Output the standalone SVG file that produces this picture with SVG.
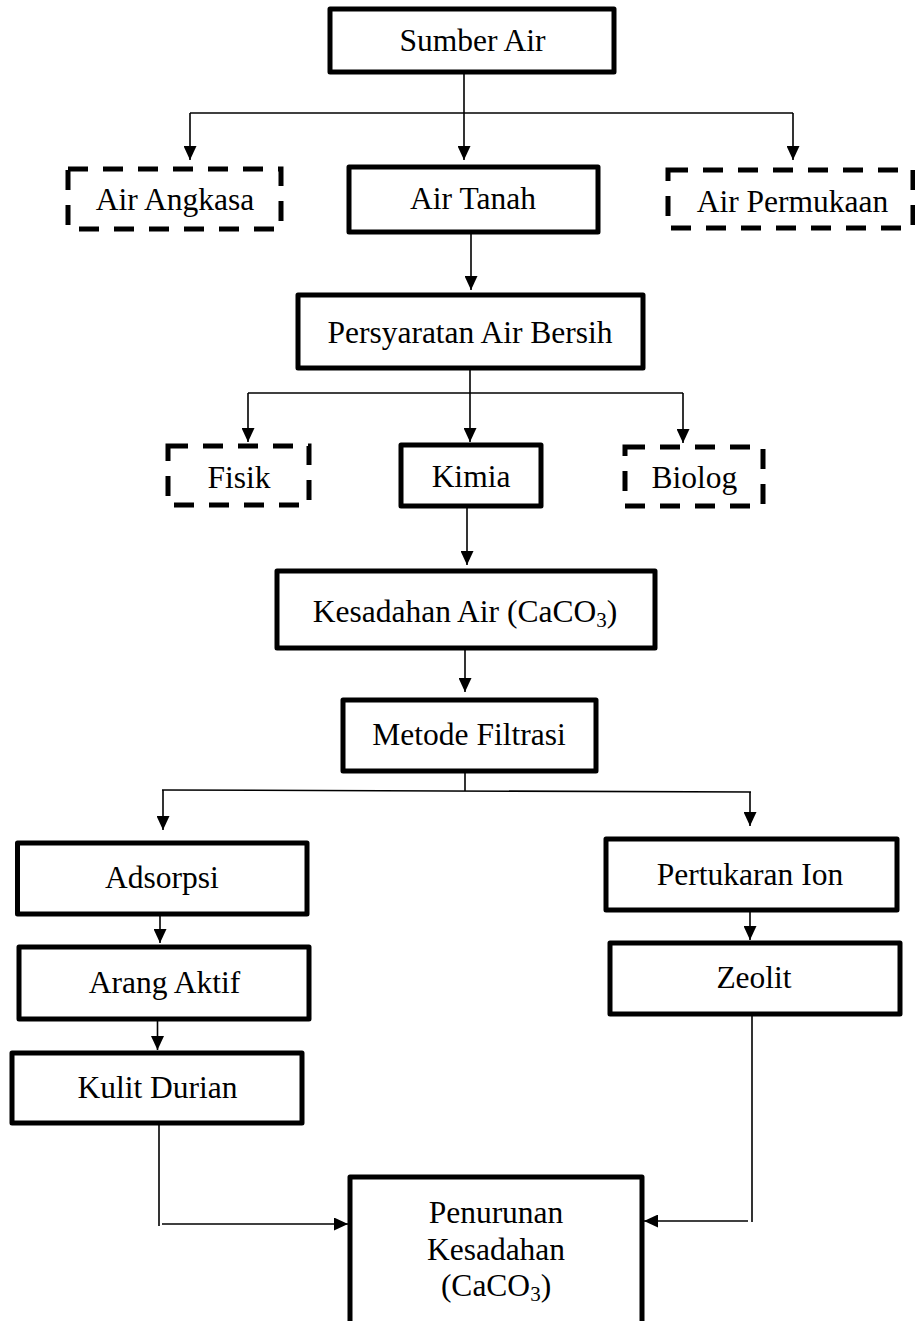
<svg xmlns="http://www.w3.org/2000/svg" width="915" height="1321" viewBox="0 0 915 1321">
<style>
.box{fill:#fff;stroke:#000;stroke-width:5;stroke-linejoin:round}
.dash{fill:#fff;stroke:#000;stroke-width:5;stroke-dasharray:20 15}
.lbl{font-family:"Liberation Serif","Times New Roman",serif;font-size:31.5px;fill:#000;text-anchor:middle}
.con{fill:none;stroke:#000;stroke-width:1.6}
.arr{marker-end:url(#ah)}
</style>
<defs>
<marker id="ah" viewBox="0 0 14 13" refX="14" refY="6.5" markerWidth="14" markerHeight="13" markerUnits="userSpaceOnUse" orient="auto">
<path d="M0 0 L14 6.5 L0 13 Z" fill="#000"/>
</marker>
</defs>
<g id="connectors">
<path class="con arr" d="M464 72 V160"/>
<path class="con" d="M190 113 H793"/>
<path class="con arr" d="M190 113 V160"/>
<path class="con arr" d="M793 113 V160"/>
<path class="con arr" d="M471 232 V290"/>
<path class="con arr" d="M470 368 V442"/>
<path class="con" d="M248 393 H683"/>
<path class="con arr" d="M248 393 V442"/>
<path class="con arr" d="M683 393 V443"/>
<path class="con arr" d="M467 506 V565"/>
<path class="con arr" d="M465 648 V692"/>
<path class="con" d="M465 771 V791"/>
<path class="con" d="M162 790 L751 792"/>
<path class="con arr" d="M163 790 V830"/>
<path class="con arr" d="M750 792 V826"/>
<path class="con arr" d="M160 914 V943"/>
<path class="con arr" d="M157.5 1019 V1050"/>
<path class="con arr" d="M750 910 V940"/>
<path class="con" d="M159 1123 V1226"/>
<path class="con arr" d="M162 1224 H348"/>
<path class="con" d="M752 1014 V1222"/>
<path class="con arr" d="M748 1221 H644"/>
</g>
<g id="sumber-air"><rect class="box" x="330" y="9" width="284" height="63"/><text class="lbl" x="472.5" y="51">Sumber Air</text></g>
<g id="air-angkasa"><rect class="dash" x="68" y="169" width="213" height="60"/><text class="lbl" x="175" y="210">Air Angkasa</text></g>
<g id="air-tanah"><rect class="box" x="349" y="167" width="249" height="65"/><text class="lbl" x="473" y="209">Air Tanah</text></g>
<g id="air-permukaan"><rect class="dash" x="668" y="170" width="245" height="58"/><text class="lbl" x="792.5" y="212">Air Permukaan</text></g>
<g id="persyaratan"><rect class="box" x="298" y="295" width="345" height="73"/><text class="lbl" x="470" y="343">Persyaratan Air Bersih</text></g>
<g id="fisik"><rect class="dash" x="168" y="446" width="141" height="59"/><text class="lbl" x="239" y="488">Fisik</text></g>
<g id="kimia"><rect class="box" x="401" y="445" width="140" height="61"/><text class="lbl" x="471" y="487">Kimia</text></g>
<g id="biolog"><rect class="dash" x="625" y="447" width="138" height="59"/><text class="lbl" x="694.5" y="488">Biolog</text></g>
<g id="kesadahan"><rect class="box" x="277" y="571" width="378" height="77"/><text class="lbl" x="465" y="622">Kesadahan Air (CaCO<tspan font-size="21" dy="5">3</tspan><tspan dy="-5">)</tspan></text></g>
<g id="metode-filtrasi"><rect class="box" x="343" y="700" width="253" height="71"/><text class="lbl" x="469" y="745">Metode Filtrasi</text></g>
<g id="adsorpsi"><rect class="box" x="17.5" y="843" width="289.5" height="71"/><text class="lbl" x="162" y="888">Adsorpsi</text></g>
<g id="arang-aktif"><rect class="box" x="19" y="947" width="290" height="72"/><text class="lbl" x="164.5" y="993">Arang Aktif</text></g>
<g id="kulit-durian"><rect class="box" x="12" y="1053" width="290" height="70"/><text class="lbl" x="157.5" y="1098">Kulit Durian</text></g>
<g id="pertukaran-ion"><rect class="box" x="606" y="839" width="291" height="71"/><text class="lbl" x="750" y="885">Pertukaran Ion</text></g>
<g id="zeolit"><rect class="box" x="610" y="943" width="290" height="71"/><text class="lbl" x="754" y="988">Zeolit</text></g>
<g id="penurunan"><rect class="box" x="350" y="1177" width="292" height="170"/><text class="lbl" x="496" y="1223">Penurunan</text><text class="lbl" x="496" y="1260">Kesadahan</text><text class="lbl" x="496" y="1296">(CaCO<tspan font-size="21" dy="5">3</tspan><tspan dy="-5">)</tspan></text></g>
</svg>
